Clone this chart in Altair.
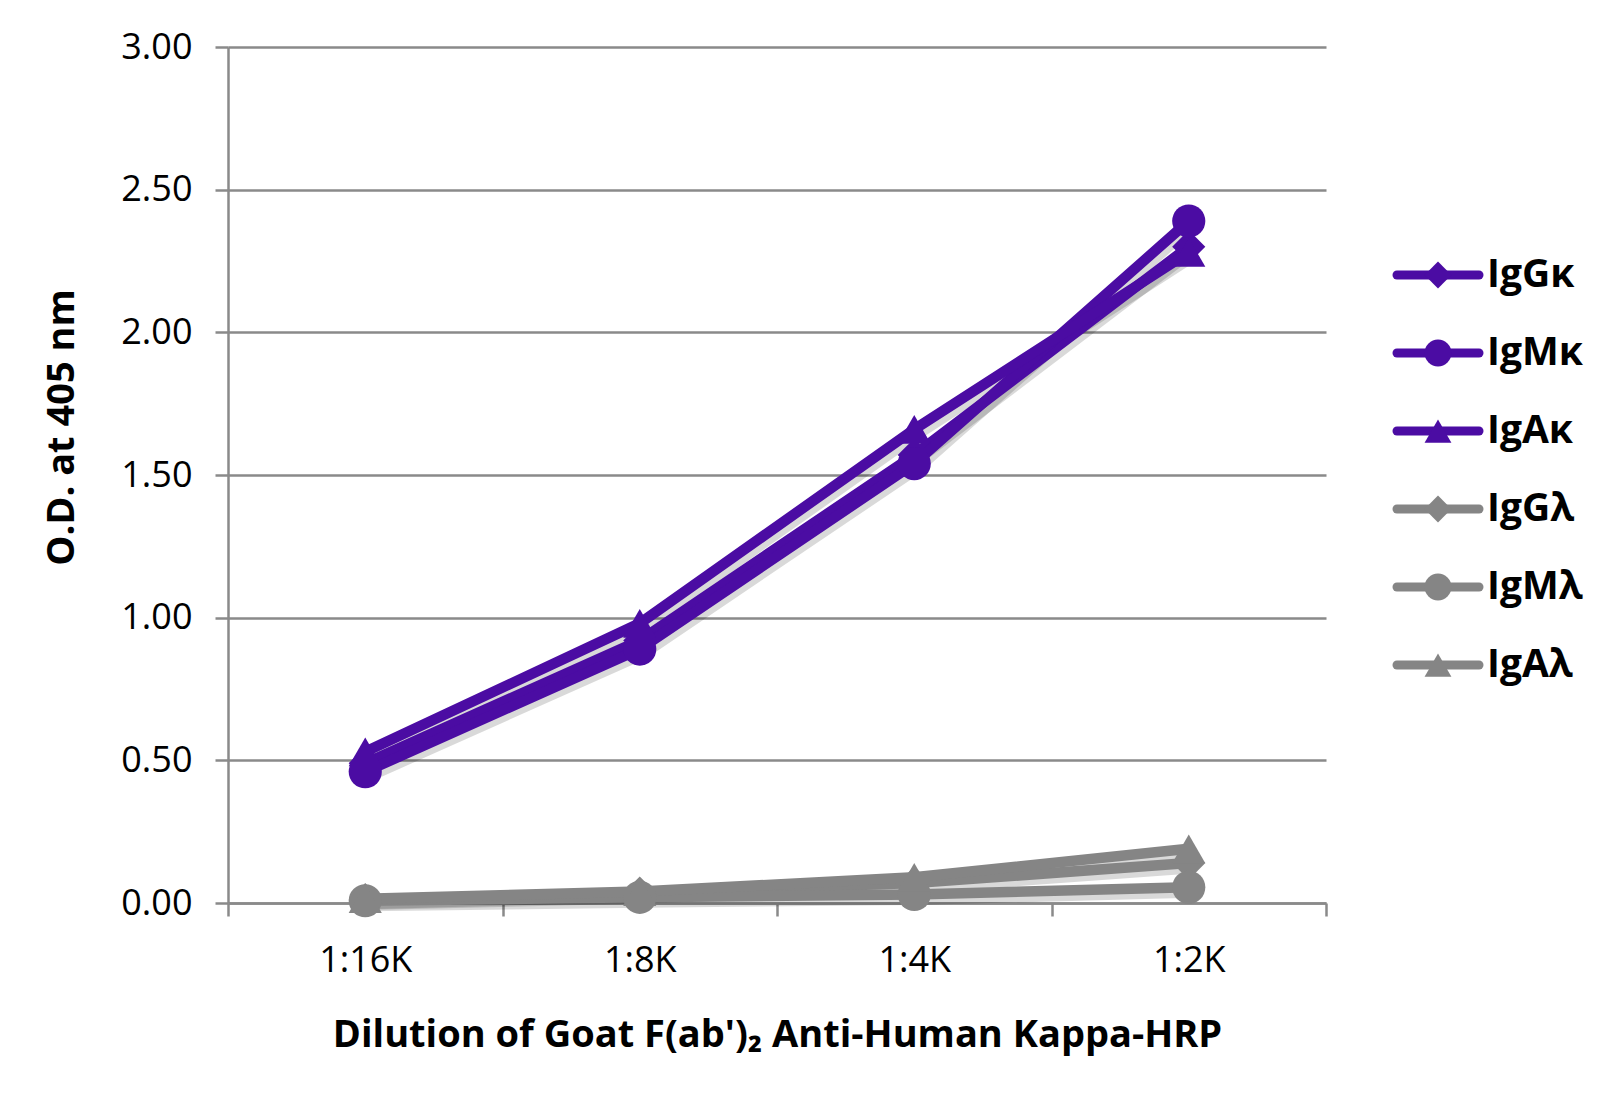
import altair as alt
import pandas as pd

# ---- data ----
dilutions = ["1:16K", "1:8K", "1:4K", "1:2K"]
series_names = ["IgGκ", "IgMκ", "IgAκ", "IgGλ", "IgMλ", "IgAλ"]
igg_k = [0.49, 0.92, 1.57, 2.30]
igm_k = [0.46, 0.89, 1.54, 2.39]
iga_k = [0.53, 0.98, 1.66, 2.28]
igg_l = [0.012, 0.035, 0.07, 0.14]
igm_l = [0.008, 0.02, 0.03, 0.055]
iga_l = [0.015, 0.04, 0.09, 0.19]
y_ticks = [0.0, 0.5, 1.0, 1.5, 2.0, 2.5, 3.0]

series_values = [igg_k, igm_k, iga_k, igg_l, igm_l, iga_l]
series_colors = ["#4b0ca3", "#4b0ca3", "#4b0ca3", "#858585", "#858585", "#858585"]
series_shapes = ["diamond", "circle", "triangle-up", "diamond", "circle", "triangle-up"]

rows = []
for name, vals in zip(series_names, series_values):
    for d, v in zip(dilutions, vals):
        rows.append({"series": name, "dilution": d, "od": v})
df = pd.DataFrame(rows)
legend_df = pd.DataFrame({"series": series_names})

FONT = "Open Sans"
GRID = "#8a8a8a"

color_scale = alt.Scale(domain=series_names, range=series_colors)
shape_scale = alt.Scale(domain=series_names, range=series_shapes)

x_enc = alt.X(
    "dilution:N",
    sort=dilutions,
    bandPosition=0.5,
    scale=alt.Scale(type="band", domain=dilutions, paddingInner=0, paddingOuter=0),
    axis=alt.Axis(
        title="Dilution of Goat F(ab')₂ Anti-Human Kappa-HRP",
        labelAngle=0,
        tickBand="extent",
        tickSize=13,
        labelPadding=27,
        titlePadding=38,
        grid=False,
    ),
)
y_enc = alt.Y(
    "od:Q",
    scale=alt.Scale(domain=[0, 3], nice=False),
    axis=alt.Axis(
        title="O.D. at 405 nm",
        values=y_ticks,
        format=".2f",
        tickSize=13,
        labelPadding=23,
        titleX=-166,
        titleY=380,
        titleAngle=-90,
        titleAlign="center",
        titleBaseline="middle",
        grid=True,
    ),
)

base = alt.Chart(df)

shadow = base.mark_line(
    strokeWidth=11, color="#000000", opacity=0.15, xOffset=3, yOffset=5
).encode(x=x_enc, y=y_enc, detail="series:N")

lines = base.mark_line(strokeWidth=10.5).encode(
    x=x_enc,
    y=y_enc,
    color=alt.Color("series:N", scale=color_scale, legend=None),
)

points = base.mark_point(filled=True, size=1100, opacity=1).encode(
    x=x_enc,
    y=y_enc,
    color=alt.Color("series:N", scale=color_scale, legend=None),
    shape=alt.Shape("series:N", scale=shape_scale, legend=None),
)

main = alt.layer(shadow, lines, points).properties(width=1098, height=856)

# ---- hand-built legend (line + marker + label) ----
leg_y = alt.Y(
    "idx:Q",
    scale=alt.Scale(domain=[-2.923, 8.051], reverse=True, nice=False, zero=False),
    axis=None,
)
leg_x_scale = alt.Scale(domain=[0, 1])
leg_base = alt.Chart(legend_df).transform_calculate(
    idx="indexof(" + str(series_names).replace("'", '"') + ", datum.series)"
)
leg_lines = leg_base.mark_rule(strokeWidth=9, strokeCap="round").encode(
    x=alt.X(datum=0, scale=leg_x_scale, axis=None),
    x2=alt.datum(1),
    y=leg_y,
    color=alt.Color("series:N", scale=color_scale, legend=None),
)
leg_points = leg_base.mark_point(filled=True, size=720, opacity=1).encode(
    x=alt.X(datum=0.5, scale=leg_x_scale, axis=None),
    y=leg_y,
    color=alt.Color("series:N", scale=color_scale, legend=None),
    shape=alt.Shape("series:N", scale=shape_scale, legend=None),
)
leg_text = leg_base.mark_text(
    align="left", baseline="middle", dx=8, fontSize=39, fontWeight="bold", font=FONT, color="#000000"
).encode(
    x=alt.X(datum=1, scale=leg_x_scale, axis=None),
    y=leg_y,
    text="series:N",
)
legend = alt.layer(leg_lines, leg_points, leg_text).properties(width=82, height=856)

chart = (
    alt.hconcat(main, legend, spacing=64)
    .properties(
        padding={"left": 35, "top": 21, "right": 5, "bottom": 5},
        background="white",
    )
    .configure_view(stroke=None)
    .configure_axis(
        labelFont=FONT,
        labelFontSize=36,
        labelColor="#000000",
        titleFont=FONT,
        titleFontSize=38,
        titleFontWeight="bold",
        titleColor="#000000",
        domainColor=GRID,
        domainWidth=2.5,
        tickColor=GRID,
        tickWidth=2.5,
        gridColor=GRID,
        gridWidth=2.5,
    )
)

chart.save("out.html", embed_options={"renderer": "svg", "actions": False})
